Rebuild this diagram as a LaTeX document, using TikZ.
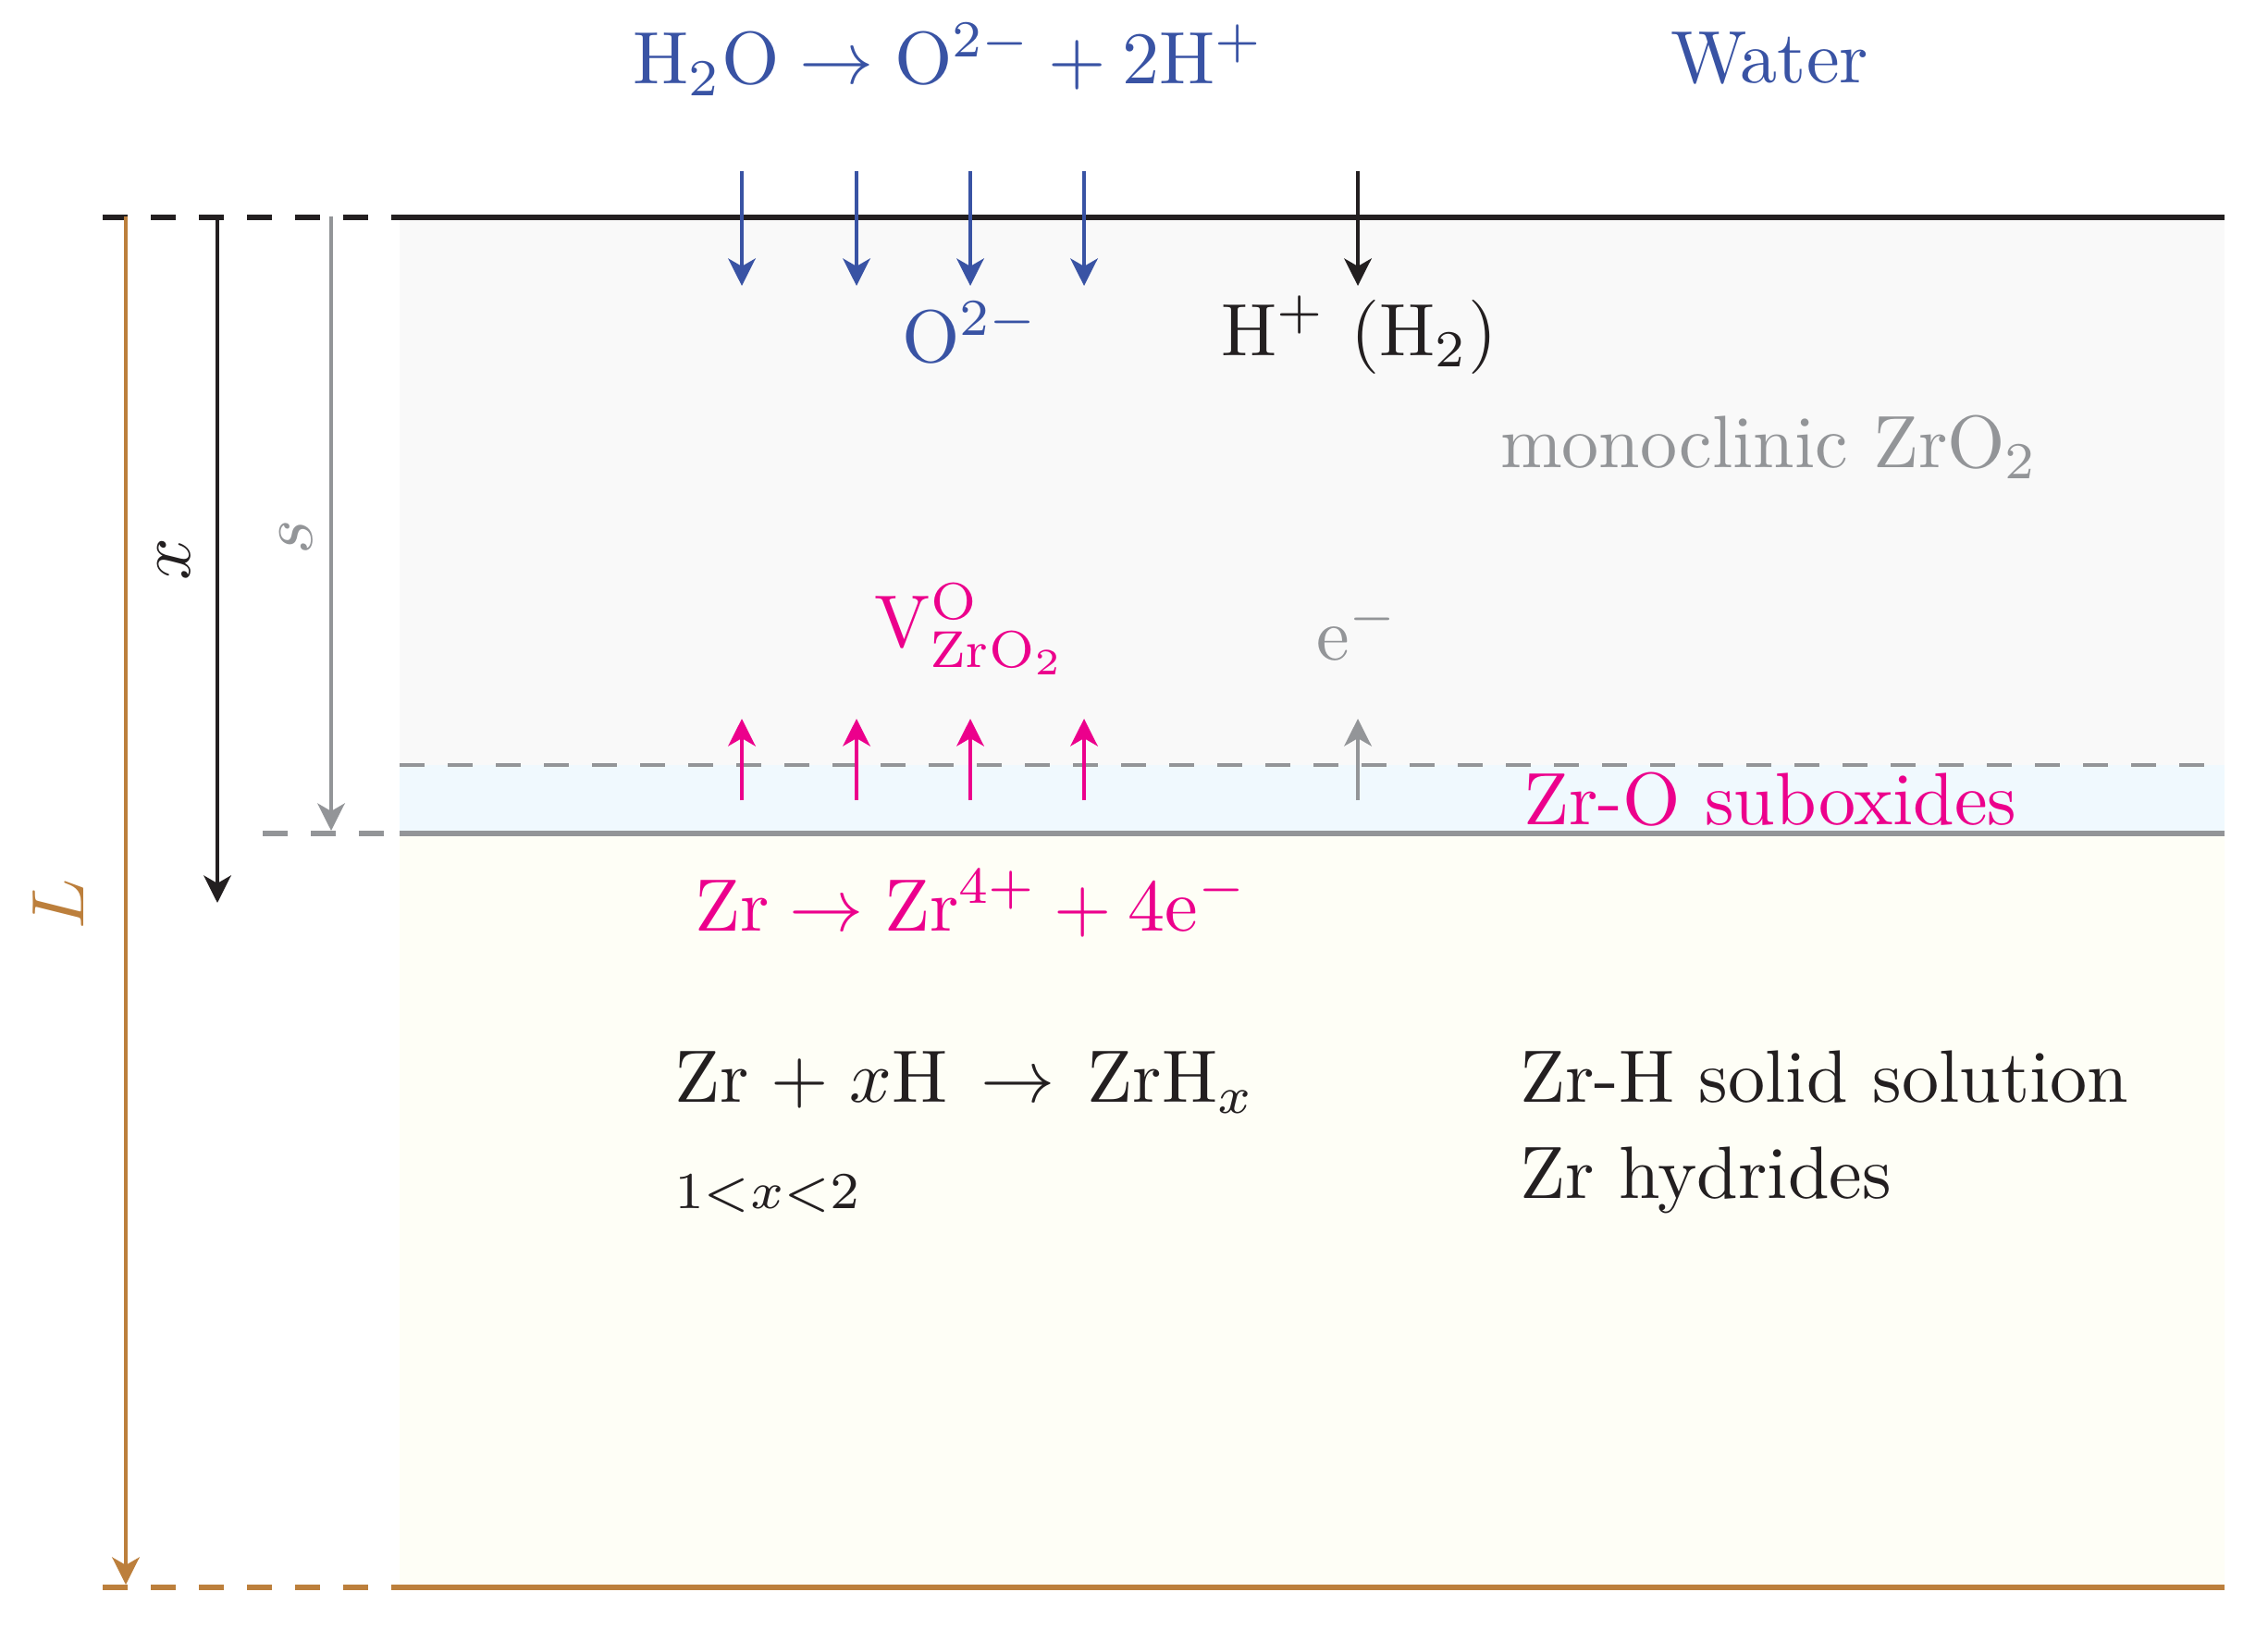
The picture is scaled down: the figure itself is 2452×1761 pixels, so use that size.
\documentclass[tikz,border=0pt]{standalone}
\usetikzlibrary{arrows.meta}
\definecolor{cblue}{HTML}{3953A4}
\definecolor{cpink}{HTML}{EC008C}
\definecolor{cgray}{HTML}{939598}
\definecolor{cblack}{HTML}{231F20}
\definecolor{corange}{HTML}{BC7F3C}
\definecolor{fgray}{HTML}{F9F9F9}
\definecolor{fblue}{HTML}{F0F9FE}
\definecolor{fyellow}{HTML}{FEFEF6}
\tikzset{
  lab/.style={anchor=base west,inner sep=0pt,outer sep=0pt,transform shape,scale=2.28},
  lbl/.style={inner sep=0pt,outer sep=0pt,transform shape,scale=2.28,rotate=90},
  arr/.style={line width=1.14pt,-{Stealth[length=8.4pt,width=8.4pt,inset=2.4pt]}},
  thick rule/.style={line width=1.7pt},
  dashrule/.style={line width=1.7pt,dash pattern=on 7.68pt off 7.11pt},
  thin dash/.style={line width=1.14pt,dash pattern=on 7.68pt off 7.11pt},
}
\begin{document}
\begin{tikzpicture}[x=0.01cm,y=-0.01cm]
\useasboundingbox (0,0) rectangle (2452,1761);
\fill[fgray] (432,235) rectangle (2405,827);
\fill[fblue] (432,827) rectangle (2405,901);
\fill[fyellow] (432,901) rectangle (2405,1716);
% named points
\coordinate (topL) at (111,235); \coordinate (topM) at (423,235); \coordinate (topR) at (2405,235);
\coordinate (midL) at (284,901); \coordinate (midM) at (432,901); \coordinate (midR) at (2405,901);
\coordinate (dashL) at (432,827); \coordinate (dashR) at (2390,827);
\coordinate (botL) at (111,1716); \coordinate (botM) at (423,1716); \coordinate (botR) at (2405,1716);
\coordinate (Ls) at (136,234); \coordinate (Le) at (136,1713);
\coordinate (xs) at (235,234); \coordinate (xe) at (235,976);
\coordinate (ss) at (358,234); \coordinate (se) at (358,898);
\foreach \n/\xx in {a/802,b/926,c/1049,d/1172,e/1468}{
  \coordinate (\n1) at (\xx,185); \coordinate (\n2) at (\xx,309);
  \coordinate (\n3) at (\xx,865); \coordinate (\n4) at (\xx,777);
}
% rules
\draw[thick rule,cblack] (topM) -- (topR);
\draw[dashrule,cblack] (topL) -- (topM);
\draw[thin dash,cgray] (dashL) -- (dashR);
\draw[thick rule,cgray] (midM) -- (midR);
\draw[dashrule,cgray] (midL) -- (midM);
\draw[thick rule,corange] (botM) -- (botR);
\draw[dashrule,corange] (botL) -- (botM);
% dimension arrows
\draw[arr,corange] (Ls) -- (Le);
\draw[arr,cblack] (xs) -- (xe);
\draw[arr,cgray] (ss) -- (se);
% flux arrows
\foreach \n in {a,b,c,d}{
  \draw[arr,cblue] (\n1) -- (\n2);
  \draw[arr,cpink] (\n3) -- (\n4);
}
\draw[arr,cblack] (e1) -- (e2);
\draw[arr,cgray] (e3) -- (e4);
% labels
\node[lab,text=cblue] (rw) at (684,91) {$\mathrm{H_2O}\rightarrow\mathrm{O^{2-}}+2\mathrm{H^+}$};
\node[lab,text=cblue] (water) at (1806,90) {Water};
\node[lab,text=cblue] (oo) at (975,392) {$\mathrm{O^{2-}}$};
\node[lab,text=cblack] (hh) at (1320,384) {$\mathrm{H^+}$ $(\mathrm{H_2})$};
\node[lab,text=cgray] (mono) at (1622,505) {monoclinic ZrO$_2$};
\node[lab,text=cpink] (vac) at (945,699) {$\mathrm{V^{O}_{ZrO_2}}$};
\node[lab,text=cgray] (el) at (1423,713) {$\mathrm{e^-}$};
\node[lab,text=cpink] (sub) at (1647,891) {Zr-O suboxides};
\node[lab,text=cpink] (rz) at (751,1006) {$\mathrm{Zr}\rightarrow\mathrm{Zr^{4+}}+4\mathrm{e^-}$};
\node[lab,text=cblack] (rh) at (729,1191) {$\mathrm{Zr}\mskip1.5mu+\mskip1mu x\mathrm{H}\mskip3mu\rightarrow\mskip3mu\mathrm{ZrH}_x$};
\node[lab,text=cblack] (rng) at (729,1306) {$\scriptstyle 1{<}x{<}2$};
\node[lab,text=cblack] (zh) at (1643,1191) {Zr-H solid solution};
\node[lab,text=cblack] (hy) at (1643,1295) {Zr hydrides};
\node[lbl,text=cblack] (xl) at (188,605) {$x$};
\node[lbl,text=cgray] (sl) at (320,581) {$s$};
\node[lbl,text=corange] (Ll) at (63,977) {$L$};
\end{tikzpicture}
\end{document}
